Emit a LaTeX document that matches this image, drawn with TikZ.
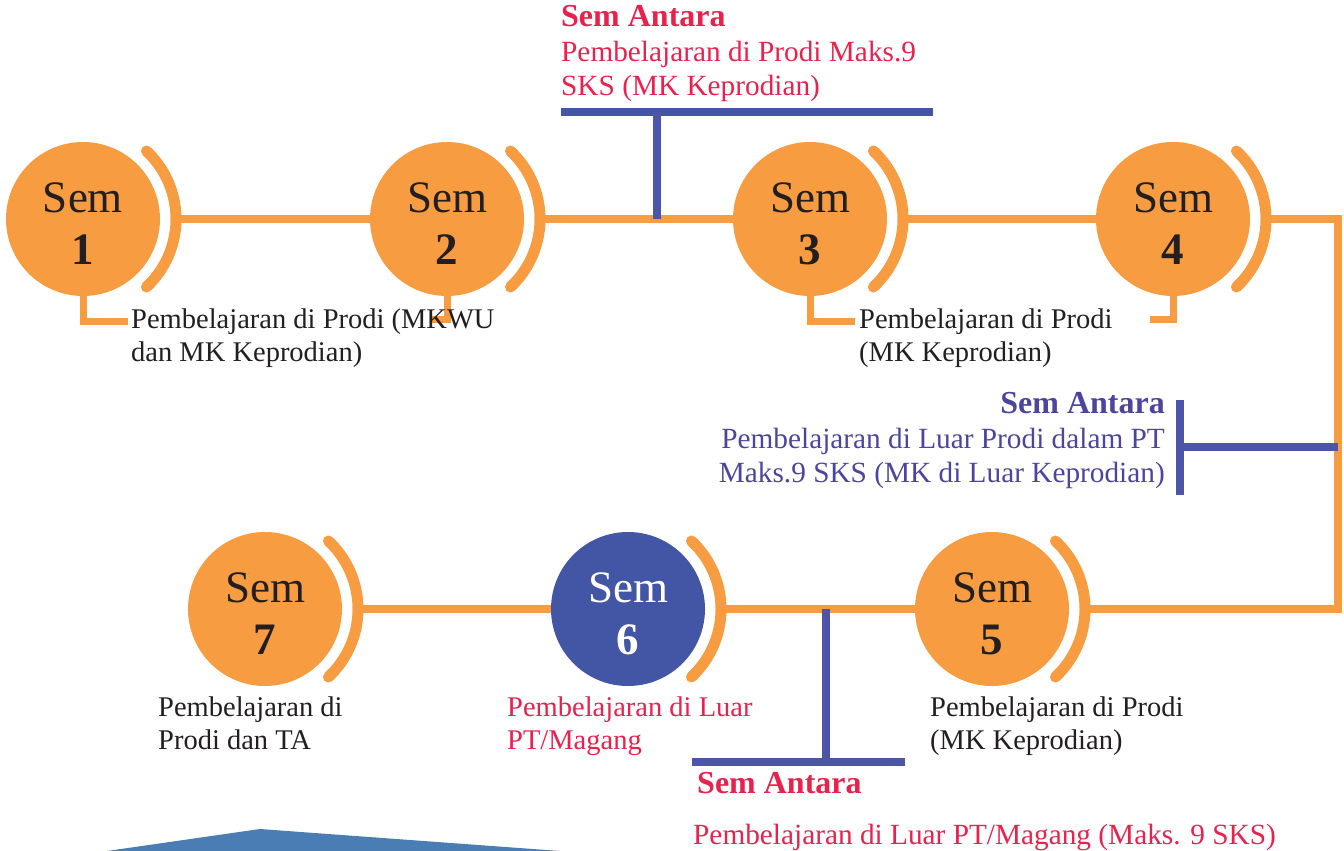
\documentclass[tikz,border=0pt]{standalone}
\usepackage{fontspec}
\setmainfont{Liberation Serif}
\usetikzlibrary{backgrounds}
\definecolor{org}{HTML}{F79C40}
\definecolor{cblue}{HTML}{4355A5}
\definecolor{lblue}{HTML}{4D55A6}
\definecolor{tred}{HTML}{E8214D}
\definecolor{tblue}{HTML}{4B45A0}
\definecolor{tblack}{HTML}{231F20}
\definecolor{tri}{HTML}{4A7DB3}
\begin{document}
\begin{tikzpicture}[x=1pt,y=-1pt,
  semc/.style={circle,fill=org,minimum size=154pt,inner sep=0pt},
  semt/.style={inner sep=0pt,align=center,font=\fontsize{45}{52}\selectfont,text=tblack},
  ring/.style={draw=org,line width=11pt,line cap=round},
  oline/.style={draw=org,line width=8pt},
  tick/.style={draw=org,line width=7pt},
  bline/.style={draw=lblue,line width=8pt},
  lbl/.style={anchor=north west,inner sep=0pt,align=left,
    font=\fontsize{28.5}{32.5}\selectfont,text=tblack},
  antara/.style={inner sep=0pt,font=\fontsize{29.3}{34}\selectfont},
  antarah/.style={inner sep=0pt,font=\fontsize{32}{34}\selectfont\bfseries}]
\useasboundingbox (0,0) rectangle (1344,851);

% semester circles
\node[semc] (s1) at (83,219) {};
\node[semc] (s2) at (447,219) {};
\node[semc] (s3) at (810,219) {};
\node[semc] (s4) at (1173,219) {};
\node[semc] (s5) at (992,609) {};
\node[semc,fill=cblue] (s6) at (628,609) {};
\node[semc] (s7) at (265,609) {};
\foreach \n/\k in {s1/1,s2/2,s3/3,s4/4,s5/5,s7/7}
  \node[semt] (t\k) at ([yshift=-5pt]\n.center) {Sem\\\textbf{\k}};
\node[semt,text=white] (t6) at ([yshift=-5pt]s6.center) {Sem\\\textbf{6}};

% arcs
\foreach \n in {s1,s2,s3,s4,s5,s6,s7}
  \draw[ring] (\n.center) ++(-47:93pt) arc[start angle=-47,end angle=47,radius=93pt];

% corners and junctions
\coordinate (ne) at (1338,219);
\coordinate (se) at (1338,609);
\coordinate (tj) at (657,112);
\coordinate (ta) at (561,112);
\coordinate (tb) at (933,112);
\coordinate (rj) at (1180,447);
\coordinate (ra) at (1180,400);
\coordinate (rb) at (1180,495);
\coordinate (bj) at (826,762);
\coordinate (ba) at (692,762);
\coordinate (bb) at (905,762);

% labels
\node[lbl] (l1) at (131,309) {Pembelajaran di Prodi (MKWU\\dan MK Keprodian)};
\node[lbl] (l3) at (859,309) {Pembelajaran di Prodi\\(MK Keprodian)};
\node[lbl] (l7) at (158,697) {Pembelajaran di\\Prodi dan TA};
\node[lbl,text=tred] (l6) at (507,697) {Pembelajaran di Luar\\PT/Magang};
\node[lbl] (l5) at (930,697) {Pembelajaran di Prodi\\(MK Keprodian)};

% sem antara texts
\node[antarah,anchor=north west,text=tred] (ath) at (561,5) {Sem Antara};
\node[antara,anchor=north west,align=left,text=tred] (at) at (561,41)
  {Pembelajaran di Prodi Maks.9\\SKS (MK Keprodian)};
\node[antarah,anchor=north east,text=tblue] (arh) at (1165,392) {Sem Antara};
\node[antara,anchor=north east,align=right,text=tblue] (ar) at (1165,428)
  {Pembelajaran di Luar Prodi dalam PT\\Maks.9 SKS (MK di Luar Keprodian)};
\node[antarah,anchor=north west,text=tred] (abh) at (697,772) {Sem Antara};
\node[antara,anchor=north west,text=tred] (abt) at (693,824) {Pembelajaran di Luar PT/Magang (Maks. 9 SKS)};

\begin{scope}[on background layer]
  \draw[oline] ([xshift=97pt]s1.center) -- (s2.center);
  \draw[oline] ([xshift=97pt]s2.center) -- (s3.center);
  \draw[oline] ([xshift=97pt]s3.center) -- (s4.center);
  \draw[oline] ([xshift=97pt]s4.center) -- (ne) -- (se) -- ([xshift=97pt]s5.center);
  \draw[oline] (s5.center) -- ([xshift=97pt]s6.center);
  \draw[oline] (s6.center) -- ([xshift=97pt]s7.center);
  % label ticks
  \draw[tick] (s1.south) |- ([xshift=-3pt,yshift=-12pt]l1.north west);
  \draw[tick] (s2.south) -- ++(0,23) -- ++(-17,0);
  \draw[tick] (s3.south) |- ([xshift=-4pt,yshift=-12pt]l3.north west);
  \draw[tick] (s4.south) -- ++(0,23) -- ++(-23,0);
\end{scope}

% blue T connectors
\draw[bline,draw=cblue] (ta) -- (tb);
\draw[bline] (tj) -- (tj |- s2.center);
\draw[bline] (ra) -- (rb);
\draw[bline] (rj) -- (ne |- rj);
\draw[bline] (ba) -- (bb);
\draw[bline] (bj) -- (bj |- s5.center);

% bottom shape
\fill[tri] (107,851) -- (260,829) -- (560,851) -- cycle;
\end{tikzpicture}
\end{document}
